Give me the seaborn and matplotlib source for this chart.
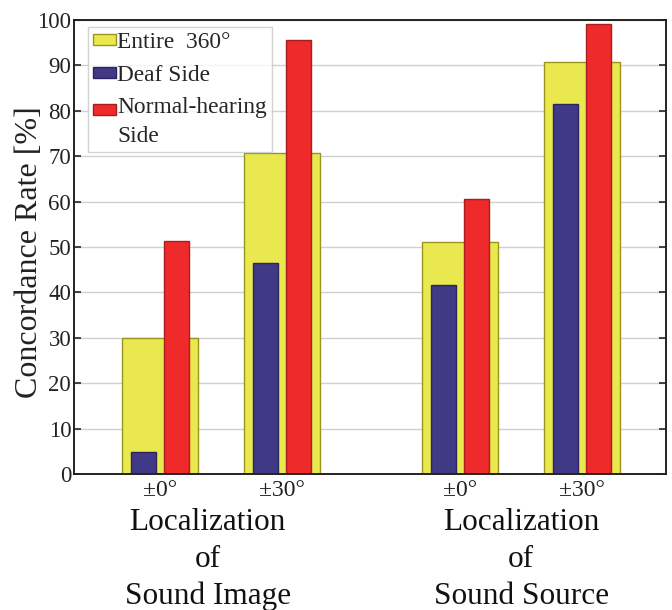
import numpy as np
import pandas as pd
import matplotlib
matplotlib.use("Agg")
import matplotlib.pyplot as plt
import seaborn as sns
from matplotlib.patches import Patch, Rectangle
from matplotlib.legend_handler import HandlerPatch

# data
conditions = ["±0°", "±30°", "±0°", "±30°"]
entire_360 = [30.0, 70.7, 51.1, 90.7]
deaf_side = [4.8, 46.5, 41.6, 81.5]
normal_side = [51.3, 95.6, 60.6, 99.1]
group_names = ["Localization\nof\nSound Image", "Localization\nof\nSound Source"]

# layout (not data)
positions = [1.0, 2.0, 3.46, 4.46]
group_centers = [1.39, 3.96]

sns.set_style("white")
plt.rcParams["font.family"] = ["Liberation Serif", "DejaVu Serif"]

yellow, yellow_edge = "#E9E84E", "#9A9420"
blue, blue_edge = "#403985", "#2A2560"
red, red_edge = "#EE2A2A", "#A81E1E"

fig = plt.figure(figsize=(6.72, 6.10), dpi=100)
ax = fig.add_axes([74 / 672, 1 - 474 / 610, (666 - 74) / 672, (474 - 20) / 610])

df_all = pd.DataFrame({"pos": positions, "rate": entire_360})
sns.barplot(data=df_all, x="pos", y="rate", native_scale=True, width=0.62,
            color=yellow, edgecolor=yellow_edge, linewidth=1.0, saturation=1, ax=ax)

df_side = pd.DataFrame({
    "pos": positions * 2,
    "rate": deaf_side + normal_side,
    "side": ["Deaf Side"] * 4 + ["Normal-hearing Side"] * 4,
})
sns.barplot(data=df_side, x="pos", y="rate", hue="side", native_scale=True,
            palette=[blue, red], width=0.53, gap=0.23, dodge=True,
            saturation=1, linewidth=1.0, legend=False, ax=ax)
# darker outlines for the side bars
for p in ax.patches[4:]:
    fc = p.get_facecolor()
    p.set_edgecolor(blue_edge if fc[2] > fc[0] else red_edge)

ax.set_xlim(0.295, 5.148)
ax.set_ylim(0, 100)
ax.set_yticks(np.arange(0, 101, 10))
ax.set_xticks(positions)
ax.set_xticklabels(conditions, fontsize=17, color="#222222")
ax.tick_params(axis="x", length=0, pad=4)
ax.tick_params(axis="y", direction="in", length=5, width=1.2, pad=2,
               labelsize=16.5, labelcolor="#222222", right=True, left=True)
ax.yaxis.grid(True, color="#D0D0D0", linewidth=1.0)
ax.set_axisbelow(True)
ax.set_xlabel("")
ax.set_ylabel("Concordance Rate [%]", fontsize=23, color="#222222", labelpad=1)
ax.yaxis.set_label_coords(-0.05, 0.488)
for s in ax.spines.values():
    s.set_color("#222222")
    s.set_linewidth(1.4)

# group labels under the axis
for gx, name in zip(group_centers, group_names):
    for i, line in enumerate(name.split("\n")):
        ax.text(gx, -10.6 - i * 8.2, line, fontsize=22.5, ha="center", va="center",
                color="#111111", transform=ax.transData, clip_on=False)


# the two-line legend entry keeps its swatch beside the first line
def raised_box(legend, orig_handle, xdescent, ydescent, width, height, fontsize):
    return Rectangle((-xdescent, -ydescent + 0.52 * fontsize), width, height)


handles = [
    Patch(facecolor=yellow, edgecolor=yellow_edge, label="Entire  360°"),
    Patch(facecolor=blue, edgecolor=blue_edge, label="Deaf Side"),
    Patch(facecolor=red, edgecolor=red_edge, label="Normal-hearing\nSide"),
]
leg = ax.legend(handles=handles, loc="upper left", bbox_to_anchor=(0.023, 0.985),
                fontsize=16.8, frameon=True, fancybox=False, edgecolor="#C8C8C8",
                handlelength=1.0, handleheight=0.35, handletextpad=0.05,
                labelspacing=0.5, borderpad=0.22, borderaxespad=0.0,
                handler_map={handles[2]: HandlerPatch(patch_func=raised_box)})
for t in leg.get_texts():
    t.set_linespacing(1.5)
leg.get_frame().set_linewidth(1.0)

fig.savefig("out.png", dpi=100)
